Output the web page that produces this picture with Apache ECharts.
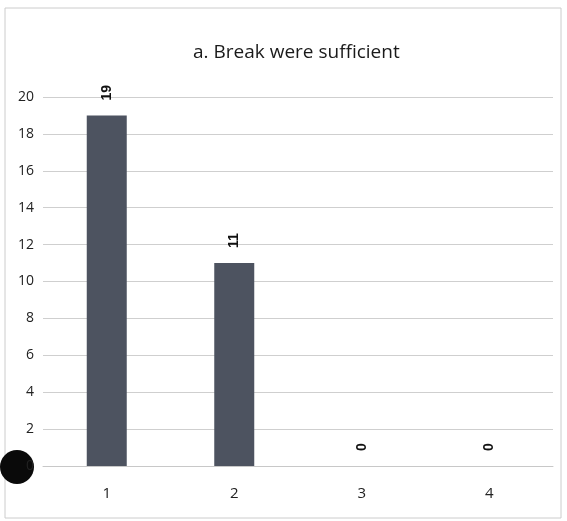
<!DOCTYPE html>
<html>
<head>
<meta charset="utf-8">
<script src="https://cdn.jsdelivr.net/npm/echarts@6/dist/echarts.min.js"></script>
<style>
html, body { margin: 0; padding: 0; background: #fff; }
#chart { width: 567px; height: 521px; }
</style>
</head>
<body>
<div id="chart"></div>
<script>
var categories = ["1", "2", "3", "4"];
var counts = [19, 11, 0, 0];
var yTicks = { min: 0, max: 20, step: 2 };

var chart = echarts.init(document.getElementById("chart"));
chart.setOption({
    animation: false,
    backgroundColor: "#ffffff",
    title: {
        text: "a. Break were sufficient",
        left: 188,
        top: 38,
        textStyle: {
            fontFamily: "Open Sans",
            fontWeight: "normal",
            fontSize: 19,
            color: "#1a1a1a"
        }
    },
    grid: { left: 43, right: 14, top: 97, bottom: 55 },
    xAxis: {
        type: "category",
        data: categories,
        axisLine: { show: true, lineStyle: { color: "#c8c8c8" } },
        axisTick: { show: false },
        axisLabel: { fontSize: 15, color: "#222", margin: 20, fontFamily: "Open Sans" }
    },
    yAxis: {
        type: "value",
        min: yTicks.min,
        max: yTicks.max,
        interval: yTicks.step,
        axisLine: { show: false },
        axisTick: { show: false },
        axisLabel: { fontSize: 14, color: "#222", margin: 9, fontFamily: "Open Sans" },
        splitLine: { lineStyle: { color: "#cfcfcf" } }
    },
    series: [{
        type: "bar",
        data: counts,
        barWidth: 40,
        itemStyle: { color: "#4d5360" },
        label: {
            show: true,
            position: "top",
            rotate: 90,
            align: "left",
            verticalAlign: "middle",
            distance: 15,
            fontSize: 14,
            fontWeight: "bold",
            color: "#111"
        }
    }],
    graphic: [
        {
            type: "rect",
            shape: { x: 5, y: 8, width: 556, height: 510 },
            style: { fill: null, stroke: "#cccccc", lineWidth: 1 },
            silent: true
        },
        {
            type: "circle",
            shape: { cx: 17, cy: 467, r: 17 },
            style: { fill: "#0a0a0a" },
            silent: true
        }
    ]
});
</script>
</body>
</html>
